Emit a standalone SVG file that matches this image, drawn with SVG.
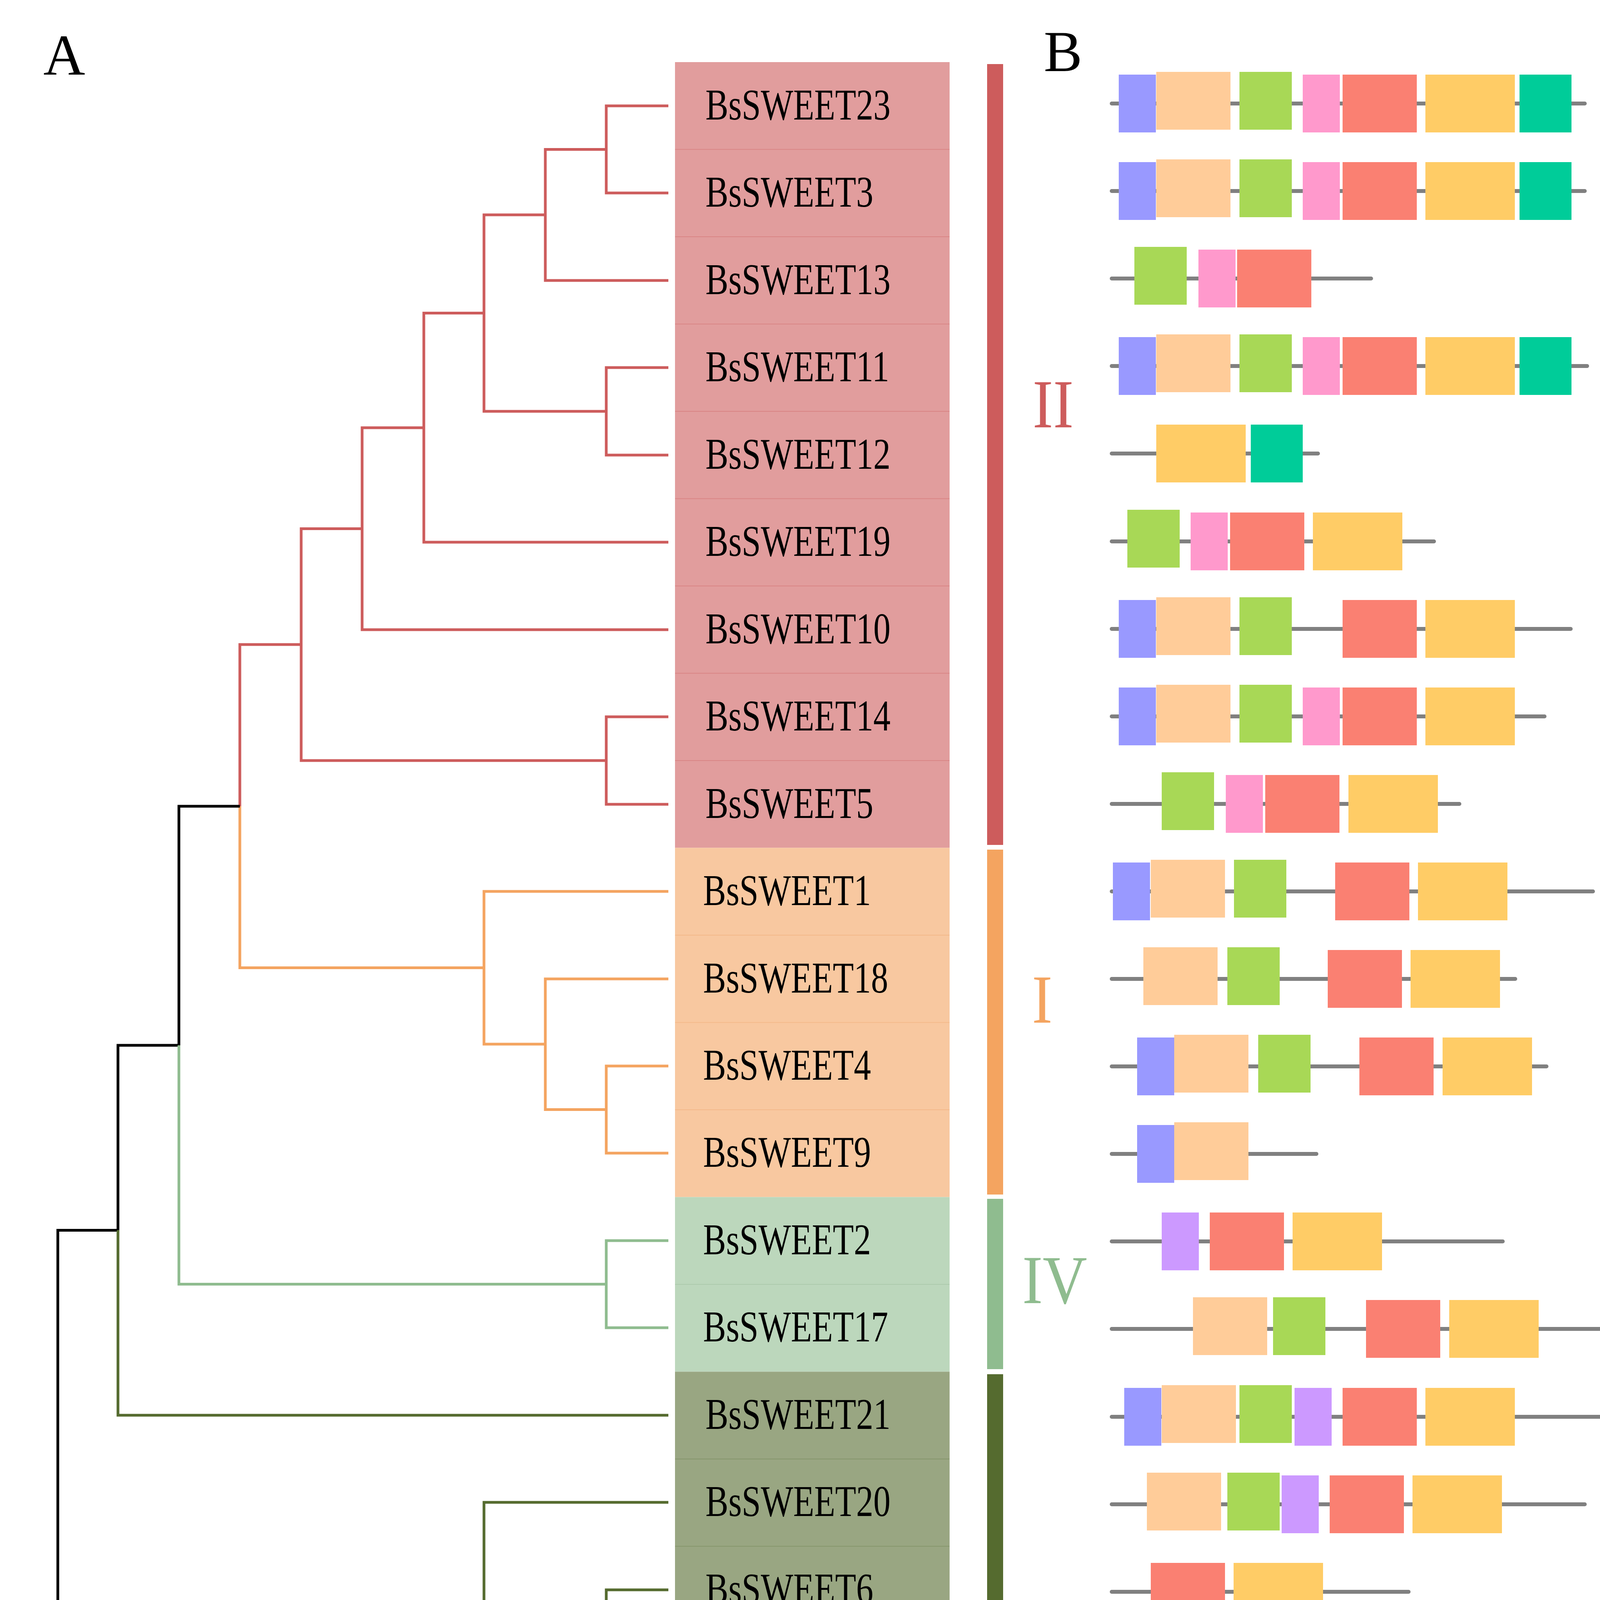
<svg xmlns="http://www.w3.org/2000/svg" width="7209" height="5633" viewBox="0 0 7209 5633">
<style>
.pl{font-family:"Liberation Serif","Times New Roman",serif;font-size:148px;fill:#000}
.lab{font-family:"Liberation Serif","Times New Roman",serif;font-size:112px;fill:#000}
.rom{font-family:"Liberation Serif","Times New Roman",serif;font-size:175px;text-anchor:middle}
.leg{font-family:"Liberation Serif","Times New Roman",serif;font-size:75px;fill:#404040}
.ax{font-family:"Liberation Serif","Times New Roman",serif;font-size:58px;fill:#000;text-anchor:middle}
.axe{font-family:"Liberation Serif","Times New Roman",serif;font-size:56px;fill:#000}
.tr{fill:none;stroke-width:7;stroke-linejoin:miter}
.gl{stroke:#808080;stroke-width:10;stroke-linecap:round}
.axl{stroke:#808080;stroke-width:7;stroke-linecap:round;fill:none}
.m1{fill:#FA8072}.m2{fill:#FFCC66}.m3{fill:#FFCC99}.m4{fill:#A8D856}
.m5{fill:#00CC99}.m6{fill:#9999FF}.m7{fill:#CC99FF}.m8{fill:#FF99CC}
.cds{fill:#4169E1}.utr{fill:#FFCC00}
.cr{fill:#E19D9D}.co{fill:#F8C8A0}.cg{fill:#BCD7BC}.cv{fill:#99A682}
</style>

<text class="pl" x="111" y="191">A</text>
<text class="pl" x="2672" y="182">B</text>
<text class="pl" x="4439" y="180">C</text>

<g id="cells">
<rect class="cr" x="1728" y="159" width="703" height="2011.5"/>
<rect class="co" x="1728" y="2170.5" width="703" height="894"/>
<rect class="cg" x="1728" y="3064.5" width="703" height="447"/>
<rect class="cv" x="1728" y="3511.5" width="703" height="1788"/>
<g stroke-width="2">
<g stroke="#D98585"><line x1="1728" x2="2431" y1="382.5" y2="382.5"/><line x1="1728" x2="2431" y1="606" y2="606"/><line x1="1728" x2="2431" y1="829.5" y2="829.5"/><line x1="1728" x2="2431" y1="1053" y2="1053"/><line x1="1728" x2="2431" y1="1276.5" y2="1276.5"/><line x1="1728" x2="2431" y1="1500" y2="1500"/><line x1="1728" x2="2431" y1="1723.5" y2="1723.5"/><line x1="1728" x2="2431" y1="1947" y2="1947"/></g>
<g stroke="#F3B98A"><line x1="1728" x2="2431" y1="2394" y2="2394"/><line x1="1728" x2="2431" y1="2617.5" y2="2617.5"/><line x1="1728" x2="2431" y1="2841" y2="2841"/></g>
<g stroke="#ACCAAC"><line x1="1728" x2="2431" y1="3288" y2="3288"/></g>
<g stroke="#86966C"><line x1="1728" x2="2431" y1="3735" y2="3735"/><line x1="1728" x2="2431" y1="3958.5" y2="3958.5"/><line x1="1728" x2="2431" y1="4182" y2="4182"/><line x1="1728" x2="2431" y1="4405.5" y2="4405.5"/><line x1="1728" x2="2431" y1="4629" y2="4629"/><line x1="1728" x2="2431" y1="4852.5" y2="4852.5"/><line x1="1728" x2="2431" y1="5076" y2="5076"/></g>
</g>
</g>

<g id="leaves">
<g id="leaf-BsSWEET23"><text class="lab" transform="translate(1806,306) scale(0.785,1)">BsSWEET23</text></g>
<g id="leaf-BsSWEET3"><text class="lab" transform="translate(1806,529) scale(0.785,1)">BsSWEET3</text></g>
<g id="leaf-BsSWEET13"><text class="lab" transform="translate(1806,753) scale(0.785,1)">BsSWEET13</text></g>
<g id="leaf-BsSWEET11"><text class="lab" transform="translate(1806,976) scale(0.785,1)">BsSWEET11</text></g>
<g id="leaf-BsSWEET12"><text class="lab" transform="translate(1806,1200) scale(0.785,1)">BsSWEET12</text></g>
<g id="leaf-BsSWEET19"><text class="lab" transform="translate(1806,1423) scale(0.785,1)">BsSWEET19</text></g>
<g id="leaf-BsSWEET10"><text class="lab" transform="translate(1806,1647) scale(0.785,1)">BsSWEET10</text></g>
<g id="leaf-BsSWEET14"><text class="lab" transform="translate(1806,1870) scale(0.785,1)">BsSWEET14</text></g>
<g id="leaf-BsSWEET5"><text class="lab" transform="translate(1806,2094) scale(0.785,1)">BsSWEET5</text></g>
<g id="leaf-BsSWEET1"><text class="lab" transform="translate(1800,2317) scale(0.785,1)">BsSWEET1</text></g>
<g id="leaf-BsSWEET18"><text class="lab" transform="translate(1800,2541) scale(0.785,1)">BsSWEET18</text></g>
<g id="leaf-BsSWEET4"><text class="lab" transform="translate(1800,2764) scale(0.785,1)">BsSWEET4</text></g>
<g id="leaf-BsSWEET9"><text class="lab" transform="translate(1800,2987) scale(0.785,1)">BsSWEET9</text></g>
<g id="leaf-BsSWEET2"><text class="lab" transform="translate(1800,3211) scale(0.785,1)">BsSWEET2</text></g>
<g id="leaf-BsSWEET17"><text class="lab" transform="translate(1800,3434) scale(0.785,1)">BsSWEET17</text></g>
<g id="leaf-BsSWEET21"><text class="lab" transform="translate(1806,3658) scale(0.785,1)">BsSWEET21</text></g>
<g id="leaf-BsSWEET20"><text class="lab" transform="translate(1806,3881) scale(0.785,1)">BsSWEET20</text></g>
<g id="leaf-BsSWEET6"><text class="lab" transform="translate(1806,4105) scale(0.785,1)">BsSWEET6</text></g>
<g id="leaf-BsSWEET16"><text class="lab" transform="translate(1806,4328) scale(0.785,1)">BsSWEET16</text></g>
<g id="leaf-BsSWEET22"><text class="lab" transform="translate(1806,4552) scale(0.785,1)">BsSWEET22</text></g>
<g id="leaf-BsSWEET15"><text class="lab" transform="translate(1800,4775) scale(0.785,1)">BsSWEET15</text></g>
<g id="leaf-BsSWEET8"><text class="lab" transform="translate(1806,4998) scale(0.785,1)">BsSWEET8</text></g>
<g id="leaf-BsSWEET7"><text class="lab" transform="translate(1806,5222) scale(0.785,1)">BsSWEET7</text></g>
</g>

<g id="groups">
<rect x="2527" y="164" width="41" height="1999" fill="#CD5C5C"/>
<rect x="2527" y="2175" width="41" height="883" fill="#F4A460"/>
<rect x="2527" y="3069" width="41" height="436" fill="#8FBC8F"/>
<rect x="2527" y="3518" width="41" height="1776" fill="#556B2F"/>
<text class="rom" fill="#CD5C5C" transform="translate(2696,1094) scale(0.9,1)">II</text>
<text class="rom" fill="#F4A460" transform="translate(2668,2618) scale(0.9,1)">I</text>
<text class="rom" fill="#8FBC8F" transform="translate(2700,3336) scale(0.9,1)">IV</text>
<text class="rom" fill="#556B2F" transform="translate(2696,4318) scale(0.9,1)">III</text>
</g>

<g id="connectors" class="tr">
<g stroke="#CD5C5C">
<path d="M1711,271 H1552 V494 H1711"/>
<path d="M1552,382.5 H1396 V718 H1711"/>
<path d="M1711,941 H1552 V1165 H1711"/>
<path d="M1396,550 H1239 V1053 H1552"/>
<path d="M1239,801.5 H1085 V1388 H1711"/>
<path d="M1085,1095 H927 V1612 H1711"/>
<path d="M1711,1835 H1552 V2059 H1711"/>
<path d="M927,1353.5 H771 V1947 H1552"/>
<path d="M771,1650 H614 V2064"/>
</g>
<g stroke="#F4A460">
<path d="M614,2064 V2477.5 H1239"/>
<path d="M1711,2282 H1239 V2673 H1396"/>
<path d="M1711,2506 H1396 V2840.5 H1552"/>
<path d="M1711,2729 H1552 V2952 H1711"/>
</g>
<g stroke="#000">
<path d="M614,2064 H458 V2676"/>
<path d="M458,2676 H302 V3149.5"/>
<path d="M302,3149.5 H148 V4112"/>
<path d="M66,4112 H148"/>
</g>
<g stroke="#8FBC8F">
<path d="M458,2676 V3287.5 H1552"/>
<path d="M1711,3176 H1552 V3399 H1711"/>
</g>
<g stroke="#556B2F">
<path d="M302,3149.5 V3623 H1711"/>
<path d="M148,4112 V5075 H1552"/>
<path d="M148,4125.5 H1239"/>
<path d="M1711,3846 H1239 V4405 H1396"/>
<path d="M1552,4181.5 H1396 V4628.5 H1552"/>
<path d="M1711,4070 H1552 V4293 H1711"/>
<path d="M1711,4517 H1552 V4740 H1711"/>
<path d="M1711,4963 H1552 V5187 H1711"/>
</g>
</g>

<g id="motifs">
<g id="motif-BsSWEET23" transform="translate(0,265)"><line class="gl" x1="2846" x2="4057" y1="0" y2="0"/>
<rect class="m6" x="2864" y="-74" width="95" height="148"/><rect class="m3" x="2960" y="-81" width="190" height="148"/><rect class="m4" x="3173" y="-81" width="134" height="148"/><rect class="m8" x="3335" y="-74" width="95" height="148"/><rect class="m1" x="3437" y="-74" width="190" height="148"/><rect class="m2" x="3649" y="-74" width="229" height="148"/><rect class="m5" x="3890" y="-74" width="133" height="148"/></g>
<g id="motif-BsSWEET3" transform="translate(0,489)"><line class="gl" x1="2846" x2="4057" y1="0" y2="0"/>
<rect class="m6" x="2864" y="-74" width="95" height="148"/><rect class="m3" x="2960" y="-81" width="190" height="148"/><rect class="m4" x="3173" y="-81" width="134" height="148"/><rect class="m8" x="3335" y="-74" width="95" height="148"/><rect class="m1" x="3437" y="-74" width="190" height="148"/><rect class="m2" x="3649" y="-74" width="229" height="148"/><rect class="m5" x="3890" y="-74" width="133" height="148"/></g>
<g id="motif-BsSWEET13" transform="translate(0,713)"><line class="gl" x1="2846" x2="3510" y1="0" y2="0"/>
<rect class="m4" x="2904" y="-81" width="134" height="148"/><rect class="m8" x="3068" y="-74" width="95" height="148"/><rect class="m1" x="3167" y="-74" width="190" height="148"/></g>
<g id="motif-BsSWEET11" transform="translate(0,937)"><line class="gl" x1="2846" x2="4063" y1="0" y2="0"/>
<rect class="m6" x="2864" y="-74" width="95" height="148"/><rect class="m3" x="2960" y="-81" width="190" height="148"/><rect class="m4" x="3173" y="-81" width="134" height="148"/><rect class="m8" x="3335" y="-74" width="95" height="148"/><rect class="m1" x="3437" y="-74" width="190" height="148"/><rect class="m2" x="3649" y="-74" width="229" height="148"/><rect class="m5" x="3890" y="-74" width="133" height="148"/></g>
<g id="motif-BsSWEET12" transform="translate(0,1161)"><line class="gl" x1="2846" x2="3374" y1="0" y2="0"/>
<rect class="m2" x="2960" y="-74" width="229" height="148"/><rect class="m5" x="3202" y="-74" width="133" height="148"/></g>
<g id="motif-BsSWEET19" transform="translate(0,1386)"><line class="gl" x1="2846" x2="3671" y1="0" y2="0"/>
<rect class="m4" x="2886" y="-81" width="134" height="148"/><rect class="m8" x="3048" y="-74" width="95" height="148"/><rect class="m1" x="3149" y="-74" width="190" height="148"/><rect class="m2" x="3361" y="-74" width="229" height="148"/></g>
<g id="motif-BsSWEET10" transform="translate(0,1610)"><line class="gl" x1="2846" x2="4021" y1="0" y2="0"/>
<rect class="m6" x="2864" y="-74" width="95" height="148"/><rect class="m3" x="2960" y="-81" width="190" height="148"/><rect class="m4" x="3173" y="-81" width="134" height="148"/><rect class="m1" x="3437" y="-74" width="190" height="148"/><rect class="m2" x="3649" y="-74" width="229" height="148"/></g>
<g id="motif-BsSWEET14" transform="translate(0,1834)"><line class="gl" x1="2846" x2="3954" y1="0" y2="0"/>
<rect class="m6" x="2864" y="-74" width="95" height="148"/><rect class="m3" x="2960" y="-81" width="190" height="148"/><rect class="m4" x="3173" y="-81" width="134" height="148"/><rect class="m8" x="3335" y="-74" width="95" height="148"/><rect class="m1" x="3437" y="-74" width="190" height="148"/><rect class="m2" x="3649" y="-74" width="229" height="148"/></g>
<g id="motif-BsSWEET5" transform="translate(0,2058)"><line class="gl" x1="2846" x2="3736" y1="0" y2="0"/>
<rect class="m4" x="2974" y="-81" width="134" height="148"/><rect class="m8" x="3138" y="-74" width="95" height="148"/><rect class="m1" x="3239" y="-74" width="190" height="148"/><rect class="m2" x="3452" y="-74" width="229" height="148"/></g>
<g id="motif-BsSWEET1" transform="translate(0,2282)"><line class="gl" x1="2846" x2="4078" y1="0" y2="0"/>
<rect class="m6" x="2849" y="-74" width="95" height="148"/><rect class="m3" x="2946" y="-81" width="190" height="148"/><rect class="m4" x="3159" y="-81" width="134" height="148"/><rect class="m1" x="3418" y="-74" width="190" height="148"/><rect class="m2" x="3630" y="-74" width="229" height="148"/></g>
<g id="motif-BsSWEET18" transform="translate(0,2506)"><line class="gl" x1="2846" x2="3879" y1="0" y2="0"/>
<rect class="m3" x="2927" y="-81" width="190" height="148"/><rect class="m4" x="3142" y="-81" width="134" height="148"/><rect class="m1" x="3399" y="-74" width="190" height="148"/><rect class="m2" x="3611" y="-74" width="229" height="148"/></g>
<g id="motif-BsSWEET4" transform="translate(0,2730)"><line class="gl" x1="2846" x2="3959" y1="0" y2="0"/>
<rect class="m6" x="2911" y="-74" width="95" height="148"/><rect class="m3" x="3006" y="-81" width="190" height="148"/><rect class="m4" x="3221" y="-81" width="134" height="148"/><rect class="m1" x="3480" y="-74" width="190" height="148"/><rect class="m2" x="3693" y="-74" width="229" height="148"/></g>
<g id="motif-BsSWEET9" transform="translate(0,2954)"><line class="gl" x1="2846" x2="3370" y1="0" y2="0"/>
<rect class="m6" x="2911" y="-74" width="95" height="148"/><rect class="m3" x="3006" y="-81" width="190" height="148"/></g>
<g id="motif-BsSWEET2" transform="translate(0,3178)"><line class="gl" x1="2846" x2="3847" y1="0" y2="0"/>
<rect class="m7" x="2974" y="-74" width="95" height="148"/><rect class="m1" x="3097" y="-74" width="190" height="148"/><rect class="m2" x="3309" y="-74" width="229" height="148"/></g>
<g id="motif-BsSWEET17" transform="translate(0,3402)"><line class="gl" x1="2846" x2="4112" y1="0" y2="0"/>
<rect class="m3" x="3054" y="-81" width="190" height="148"/><rect class="m4" x="3259" y="-81" width="134" height="148"/><rect class="m1" x="3497" y="-74" width="190" height="148"/><rect class="m2" x="3710" y="-74" width="229" height="148"/></g>
<g id="motif-BsSWEET21" transform="translate(0,3627)"><line class="gl" x1="2846" x2="4112" y1="0" y2="0"/>
<rect class="m6" x="2878" y="-74" width="95" height="148"/><rect class="m3" x="2974" y="-81" width="190" height="148"/><rect class="m4" x="3173" y="-81" width="134" height="148"/><rect class="m7" x="3314" y="-74" width="95" height="148"/><rect class="m1" x="3437" y="-74" width="190" height="148"/><rect class="m2" x="3649" y="-74" width="229" height="148"/></g>
<g id="motif-BsSWEET20" transform="translate(0,3851)"><line class="gl" x1="2846" x2="4057" y1="0" y2="0"/>
<rect class="m3" x="2936" y="-81" width="190" height="148"/><rect class="m4" x="3142" y="-81" width="134" height="148"/><rect class="m7" x="3281" y="-74" width="95" height="148"/><rect class="m1" x="3404" y="-74" width="190" height="148"/><rect class="m2" x="3616" y="-74" width="229" height="148"/></g>
<g id="motif-BsSWEET6" transform="translate(0,4075)"><line class="gl" x1="2846" x2="3606" y1="0" y2="0"/>
<rect class="m1" x="2946" y="-74" width="190" height="148"/><rect class="m2" x="3158" y="-74" width="229" height="148"/></g>
<g id="motif-BsSWEET16" transform="translate(0,4299)"><line class="gl" x1="2846" x2="4254" y1="0" y2="0"/>
<rect class="m6" x="3043" y="-74" width="95" height="148"/><rect class="m3" x="3139" y="-81" width="190" height="148"/><rect class="m4" x="3348" y="-81" width="134" height="148"/><rect class="m7" x="3489" y="-74" width="95" height="148"/><rect class="m1" x="3611" y="-74" width="190" height="148"/><rect class="m2" x="3824" y="-74" width="229" height="148"/></g>
<g id="motif-BsSWEET22" transform="translate(0,4523)"><line class="gl" x1="2846" x2="3978" y1="0" y2="0"/>
<rect class="m3" x="2894" y="-81" width="190" height="148"/><rect class="m4" x="3098" y="-81" width="134" height="148"/><rect class="m7" x="3239" y="-74" width="95" height="148"/><rect class="m1" x="3361" y="-74" width="190" height="148"/><rect class="m2" x="3574" y="-74" width="229" height="148"/></g>
<g id="motif-BsSWEET15" transform="translate(0,4747)"><line class="gl" x1="2846" x2="4008" y1="0" y2="0"/>
<rect class="m3" x="2894" y="-81" width="190" height="148"/><rect class="m4" x="3098" y="-81" width="134" height="148"/><rect class="m7" x="3239" y="-74" width="95" height="148"/><rect class="m1" x="3361" y="-74" width="190" height="148"/><rect class="m2" x="3574" y="-74" width="229" height="148"/></g>
<g id="motif-BsSWEET8" transform="translate(0,4971)"><line class="gl" x1="2846" x2="3777" y1="0" y2="0"/>
<rect class="m4" x="2909" y="-81" width="134" height="148"/><rect class="m7" x="3048" y="-74" width="95" height="148"/><rect class="m1" x="3172" y="-74" width="190" height="148"/><rect class="m2" x="3385" y="-74" width="229" height="148"/></g>
<g id="motif-BsSWEET7" transform="translate(0,5195)"><line class="gl" x1="2846" x2="4074" y1="0" y2="0"/>
<rect class="m3" x="3026" y="-81" width="190" height="148"/><rect class="m4" x="3230" y="-81" width="134" height="148"/><rect class="m7" x="3370" y="-74" width="95" height="148"/><rect class="m1" x="3494" y="-74" width="190" height="148"/><rect class="m2" x="3707" y="-74" width="229" height="148"/></g>
</g>

<g id="axis-B">
<path class="axl" d="M2842,5488 V5418 H4259 V5488 M3078,5418 V5488 M3314,5418 V5488 M3550,5418 V5488 M3786,5418 V5488 M4022,5418 V5488"/>
<text class="axe" x="2813" y="5436" text-anchor="end">5'</text>
<text class="axe" x="4279" y="5436">3'</text>
<text class="ax" x="2835" y="5561">0</text>
<text class="ax" x="3068" y="5561">50</text>
<text class="ax" x="3304" y="5561">100</text>
<text class="ax" x="3540" y="5561">150</text>
<text class="ax" x="3776" y="5561">200</text>
<text class="ax" x="4012" y="5561">250</text>
<text class="ax" x="4249" y="5561">300</text>
</g>

<g id="genes">
<g id="gene-BsSWEET23" transform="translate(0,265)"><line class="gl" x1="4615" x2="4724" y1="0" y2="0"/>
<rect class="cds" x="4611" y="-82" width="8" height="148"/><rect class="cds" x="4660" y="-82" width="37" height="148"/><rect class="cds" x="4712" y="-82" width="12" height="148"/></g>
<g id="gene-BsSWEET3" transform="translate(0,489)"><line class="gl" x1="4615" x2="4731" y1="0" y2="0"/>
<rect class="cds" x="4611" y="-82" width="8" height="148"/><rect class="cds" x="4665" y="-82" width="24" height="148"/><rect class="cds" x="4694" y="-82" width="9" height="148"/><rect class="cds" x="4719" y="-82" width="12" height="148"/></g>
<g id="gene-BsSWEET13" transform="translate(0,713)"><line class="gl" x1="4615" x2="4645" y1="0" y2="0"/>
<rect class="cds" x="4611" y="-82" width="20" height="148"/><rect class="cds" x="4635" y="-82" width="10" height="148"/></g>
<g id="gene-BsSWEET11" transform="translate(0,937)"><line class="gl" x1="4615" x2="4684" y1="0" y2="0"/>
<rect class="cds" x="4611" y="-82" width="8" height="148"/><rect class="cds" x="4628" y="-82" width="21" height="148"/><rect class="cds" x="4653" y="-82" width="9" height="148"/><rect class="cds" x="4667" y="-82" width="11" height="148"/><rect class="utr" x="4681" y="-75" width="4" height="148"/></g>
<g id="gene-BsSWEET12" transform="translate(0,1161)"><line class="gl" x1="4615" x2="4641" y1="0" y2="0"/>
<rect class="cds" x="4611" y="-82" width="11" height="148"/><rect class="utr" x="4639" y="-75" width="4" height="148"/><rect class="cds" x="4628" y="-82" width="13" height="148"/></g>
<g id="gene-BsSWEET19" transform="translate(0,1386)"><line class="gl" x1="4615" x2="4769" y1="0" y2="0"/>
<rect class="cds" x="4611" y="-82" width="18" height="148"/><rect class="cds" x="4667" y="-82" width="9" height="148"/><rect class="cds" x="4762" y="-82" width="9" height="148"/></g>
<g id="gene-BsSWEET10" transform="translate(0,1610)"><line class="gl" x1="4615" x2="5014" y1="0" y2="0"/>
<rect class="utr" x="4611" y="-75" width="6" height="148"/><rect class="cds" x="4617" y="-82" width="3" height="148"/><rect class="cds" x="4861" y="-82" width="5" height="148"/><rect class="cds" x="4870" y="-82" width="23" height="148"/><rect class="cds" x="4966" y="-82" width="9" height="148"/><rect class="cds" x="5004" y="-82" width="11" height="148"/></g>
<g id="gene-BsSWEET14" transform="translate(0,1834)"><line class="gl" x1="4615" x2="4714" y1="0" y2="0"/>
<rect class="utr" x="4611" y="-75" width="18" height="148"/><rect class="cds" x="4633" y="-82" width="21" height="148"/><rect class="cds" x="4658" y="-82" width="11" height="148"/><rect class="cds" x="4678" y="-82" width="7" height="148"/><rect class="cds" x="4688" y="-82" width="8" height="148"/><rect class="utr" x="4697" y="-75" width="18" height="148"/></g>
<g id="gene-BsSWEET5" transform="translate(0,2058)"><line class="gl" x1="4615" x2="4839" y1="0" y2="0"/>
<rect class="cds" x="4611" y="-82" width="6" height="148"/><rect class="cds" x="4740" y="-82" width="8" height="148"/><rect class="cds" x="4751" y="-82" width="13" height="148"/><rect class="cds" x="4818" y="-82" width="8" height="148"/><rect class="cds" x="4832" y="-82" width="7" height="148"/></g>
<g id="gene-BsSWEET1" transform="translate(0,2282)"><line class="gl" x1="4615" x2="4900" y1="0" y2="0"/>
<rect class="utr" x="4611" y="-75" width="6" height="148"/><rect class="cds" x="4620" y="-82" width="4" height="148"/><rect class="cds" x="4665" y="-82" width="7" height="148"/><rect class="cds" x="4807" y="-82" width="18" height="148"/><rect class="cds" x="4859" y="-82" width="7" height="148"/><rect class="cds" x="4870" y="-82" width="14" height="148"/><rect class="utr" x="4884" y="-75" width="16" height="148"/></g>
<g id="gene-BsSWEET18" transform="translate(0,2506)"><line class="gl" x1="4615" x2="4731" y1="0" y2="0"/>
<rect class="cds" x="4611" y="-82" width="8" height="148"/><rect class="cds" x="4622" y="-82" width="13" height="148"/><rect class="cds" x="4694" y="-82" width="11" height="148"/><rect class="cds" x="4710" y="-82" width="9" height="148"/><rect class="cds" x="4724" y="-82" width="7" height="148"/></g>
<g id="gene-BsSWEET4" transform="translate(0,2730)"><line class="gl" x1="4615" x2="4720" y1="0" y2="0"/>
<rect class="utr" x="4611" y="-75" width="5" height="148"/><rect class="cds" x="4616" y="-82" width="5" height="148"/><rect class="cds" x="4640" y="-82" width="4" height="148"/><rect class="cds" x="4647" y="-82" width="15" height="148"/><rect class="cds" x="4667" y="-82" width="9" height="148"/><rect class="cds" x="4681" y="-82" width="9" height="148"/><rect class="cds" x="4696" y="-82" width="9" height="148"/><rect class="utr" x="4705" y="-75" width="16" height="148"/></g>
<g id="gene-BsSWEET9" transform="translate(0,2954)"><line class="gl" x1="4615" x2="4688" y1="0" y2="0"/>
<rect class="cds" x="4611" y="-82" width="8" height="148"/><rect class="cds" x="4642" y="-82" width="4" height="148"/><rect class="cds" x="4648" y="-82" width="8" height="148"/><rect class="cds" x="4681" y="-82" width="8" height="148"/></g>
<g id="gene-BsSWEET2" transform="translate(0,3178)"><line class="gl" x1="4615" x2="4975" y1="0" y2="0"/>
<rect class="cds" x="4611" y="-82" width="3" height="148"/><rect class="cds" x="4617" y="-82" width="3" height="148"/><rect class="cds" x="4852" y="-82" width="9" height="148"/><rect class="cds" x="4913" y="-82" width="10" height="148"/><rect class="cds" x="4927" y="-82" width="16" height="148"/><rect class="utr" x="4943" y="-75" width="32" height="148"/></g>
<g id="gene-BsSWEET17" transform="translate(0,3402)"><line class="gl" x1="4615" x2="6677" y1="0" y2="0"/>
<rect class="cds" x="4611" y="-82" width="8" height="148"/><rect class="cds" x="4671" y="-82" width="9" height="148"/><rect class="cds" x="4705" y="-82" width="10" height="148"/><rect class="cds" x="4787" y="-82" width="9" height="148"/><rect class="cds" x="5377" y="-82" width="9" height="148"/><rect class="cds" x="6653" y="-82" width="14" height="148"/><rect class="utr" x="6667" y="-75" width="12" height="148"/></g>
<g id="gene-BsSWEET21" transform="translate(0,3627)"><line class="gl" x1="4615" x2="4900" y1="0" y2="0"/>
<rect class="utr" x="4611" y="-75" width="4" height="148"/><rect class="cds" x="4614" y="-82" width="4" height="148"/><rect class="cds" x="4624" y="-82" width="4" height="148"/><rect class="cds" x="4660" y="-82" width="12" height="148"/><rect class="cds" x="4819" y="-82" width="11" height="148"/><rect class="cds" x="4848" y="-82" width="11" height="148"/><rect class="cds" x="4862" y="-82" width="16" height="148"/><rect class="utr" x="4878" y="-75" width="24" height="148"/></g>
<g id="gene-BsSWEET20" transform="translate(0,3851)"><line class="gl" x1="4615" x2="4858" y1="0" y2="0"/>
<rect class="cds" x="4611" y="-82" width="3" height="148"/><rect class="cds" x="4712" y="-82" width="3" height="148"/><rect class="cds" x="4760" y="-82" width="16" height="148"/><rect class="cds" x="4780" y="-82" width="11" height="148"/><rect class="cds" x="4821" y="-82" width="9" height="148"/><rect class="cds" x="4844" y="-82" width="15" height="148"/></g>
<g id="gene-BsSWEET6" transform="translate(0,4075)"><line class="gl" x1="4615" x2="4672" y1="0" y2="0"/>
<rect class="utr" x="4609" y="-75" width="4" height="148"/><rect class="cds" x="4613" y="-82" width="9" height="148"/><rect class="cds" x="4626" y="-82" width="11" height="148"/><rect class="cds" x="4644" y="-82" width="12" height="148"/><rect class="utr" x="4656" y="-75" width="16" height="148"/></g>
<g id="gene-BsSWEET16" transform="translate(0,4299)"><line class="gl" x1="4615" x2="4780" y1="0" y2="0"/>
<rect class="utr" x="4609" y="-75" width="4" height="148"/><rect class="cds" x="4611" y="-82" width="11" height="148"/><rect class="cds" x="4678" y="-82" width="5" height="148"/><rect class="cds" x="4685" y="-82" width="14" height="148"/><rect class="cds" x="4714" y="-82" width="10" height="148"/><rect class="cds" x="4730" y="-82" width="9" height="148"/><rect class="cds" x="4744" y="-82" width="13" height="148"/><rect class="utr" x="4757" y="-75" width="25" height="148"/></g>
<g id="gene-BsSWEET22" transform="translate(0,4523)"><line class="gl" x1="4615" x2="6106" y1="0" y2="0"/>
<rect class="cds" x="4611" y="-82" width="3" height="148"/><rect class="cds" x="4957" y="-82" width="15" height="148"/><rect class="cds" x="5034" y="-82" width="11" height="148"/><rect class="cds" x="5050" y="-82" width="9" height="148"/><rect class="cds" x="6093" y="-82" width="13" height="148"/></g>
<g id="gene-BsSWEET15" transform="translate(0,4747)"><line class="gl" x1="4615" x2="4693" y1="0" y2="0"/>
<rect class="utr" x="4609" y="-75" width="4" height="148"/><rect class="cds" x="4613" y="-82" width="6" height="148"/><rect class="cds" x="4622" y="-82" width="13" height="148"/><rect class="cds" x="4644" y="-82" width="10" height="148"/><rect class="cds" x="4660" y="-82" width="7" height="148"/><rect class="cds" x="4671" y="-82" width="12" height="148"/><rect class="utr" x="4683" y="-75" width="11" height="148"/></g>
<g id="gene-BsSWEET8" transform="translate(0,4971)"><line class="gl" x1="4615" x2="4771" y1="0" y2="0"/>
<rect class="cds" x="4611" y="-82" width="11" height="148"/><rect class="cds" x="4626" y="-82" width="9" height="148"/><rect class="cds" x="4638" y="-82" width="7" height="148"/><rect class="cds" x="4760" y="-82" width="13" height="148"/></g>
<g id="gene-BsSWEET7" transform="translate(0,5195)"><line class="gl" x1="4615" x2="4969" y1="0" y2="0"/>
<rect class="cds" x="4611" y="-82" width="9" height="148"/><rect class="cds" x="4814" y="-82" width="12" height="148"/><rect class="cds" x="4832" y="-82" width="12" height="148"/><rect class="cds" x="4848" y="-82" width="9" height="148"/><rect class="cds" x="4959" y="-82" width="11" height="148"/></g>
</g>

<g id="axis-C">
<path class="axl" d="M4613,5488 V5418 H6823 V5488 M4797,5418 V5488 M4981,5418 V5488 M5166,5418 V5488 M5350,5418 V5488 M5534,5418 V5488 M5718,5418 V5488 M5902,5418 V5488 M6086,5418 V5488 M6271,5418 V5488 M6455,5418 V5488 M6639,5418 V5488"/>
<text class="axe" x="4579" y="5436" text-anchor="end">5'</text>
<text class="axe" x="6840" y="5436">3'</text>
<text class="ax" x="4608" y="5561">0</text>
<text class="ax" x="4792" y="5561">3000</text>
<text class="ax" x="4976" y="5561">6000</text>
<text class="ax" x="5161" y="5561">9000</text>
<text class="ax" x="5345" y="5561">12,000</text>
<text class="ax" x="5529" y="5561">15,000</text>
<text class="ax" x="5713" y="5561">18,000</text>
<text class="ax" x="5897" y="5561">21,000</text>
<text class="ax" x="6081" y="5561">24,000</text>
<text class="ax" x="6266" y="5561">27,000</text>
<text class="ax" x="6450" y="5561">30,000</text>
<text class="ax" x="6634" y="5561">33,000</text>
<text class="ax" x="6818" y="5561">36,000</text>
</g>

<g id="legend">
<rect class="m1" x="6663" y="90" width="210" height="88"/><text class="leg" x="6895" y="161">Motif 1</text>
<rect class="m2" x="6663" y="200" width="210" height="88"/><text class="leg" x="6895" y="271">Motif 2</text>
<rect class="m3" x="6663" y="310" width="210" height="88"/><text class="leg" x="6895" y="381">Motif 3</text>
<rect class="m4" x="6663" y="424" width="210" height="88"/><text class="leg" x="6895" y="495">Motif 4</text>
<rect class="m5" x="6663" y="539" width="210" height="88"/><text class="leg" x="6895" y="610">Motif 5</text>
<rect class="m6" x="6663" y="657" width="210" height="88"/><text class="leg" x="6895" y="728">Motif 6</text>
<rect class="m7" x="6663" y="775" width="210" height="88"/><text class="leg" x="6895" y="846">Motif 7</text>
<rect class="m8" x="6663" y="891" width="210" height="88"/><text class="leg" x="6895" y="962">Motif 8</text>
<rect class="cds" x="6663" y="1124" width="210" height="88"/><text class="leg" x="6895" y="1195">CDS</text>
<rect class="utr" x="6663" y="1243" width="210" height="88"/><text class="leg" x="6895" y="1314">UTR</text>
</g>
</svg>
